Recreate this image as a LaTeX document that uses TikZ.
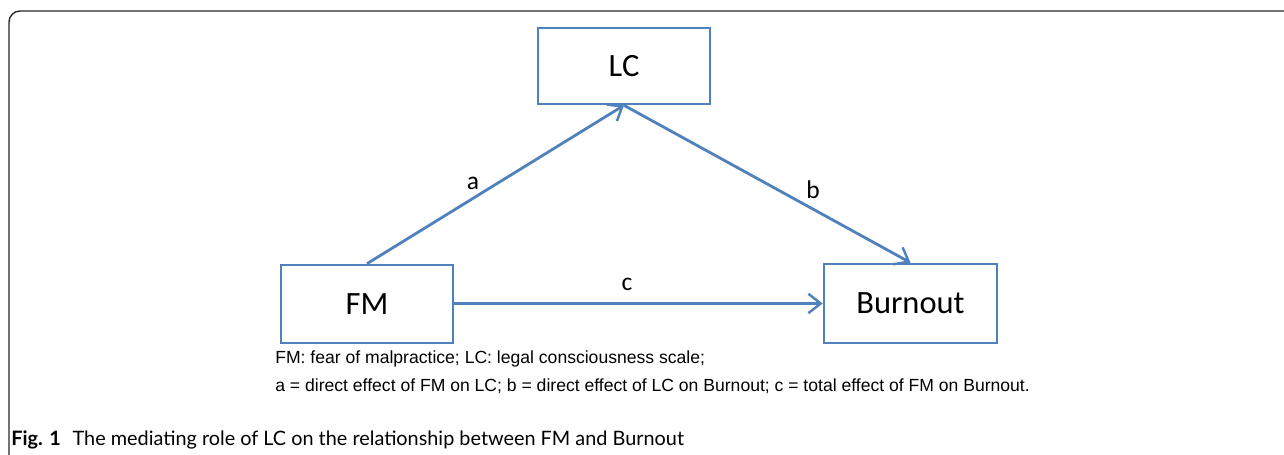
\documentclass[tikz,border=0pt]{standalone}
\usepackage{fontspec}
\setmainfont{Carlito}
\newfontfamily\notefont{Liberation Sans}
\newfontfamily\capfont{Lato}
\usetikzlibrary{arrows.meta,calc}
\definecolor{boxblue}{RGB}{79,129,189}
\definecolor{framegray}{RGB}{40,40,40}
\newdimen\px
\px=0.02cm
\tikzset{
  varbox/.style={draw=boxblue, line width=1.5pt, minimum width=172\px, inner sep=0pt, font=\fontsize{18.5}{22}\selectfont},
  effect/.style={draw=boxblue, line width=1.6pt, -{Straight Barb[length=7pt,width=11pt,line width=1.4pt]}},
  lbl/.style={font=\fontsize{14.5}{17}\selectfont},
  note/.style={anchor=base west, inner sep=0pt, font=\notefont\fontsize{10}{12}\selectfont},
}
\begin{document}
\begin{tikzpicture}[x=0.02cm,y=-0.02cm]
\useasboundingbox (0,0) rectangle (1284,455);
% frame
\draw[framegray, line width=0.8pt, rounded corners=0.22cm] (9,455) -- (9,11) -- (1284,11);
% nodes
\node[varbox, minimum height=76\px] (LC) at (624,66) {LC};
\node[varbox, minimum height=78\px] (FM) at (367,304) {FM};
\node[varbox, minimum height=79\px, minimum width=173\px] (BO) at (910.5,303.5) {Burnout};
% connectors
\draw[effect] (FM.north) -- (LC.south);
\draw[effect] (LC.south) -- (BO.north);
\draw[effect] (FM.east |- BO.west) -- (BO.west);
% labels
\node[lbl] (la) at (473,183) {a};
\node[lbl] (lb) at (813,190) {b};
\node[lbl] (lc) at (627,284) {c};
% note
\node[note] (n1) at (275,364) {FM: fear of malpractice; LC: legal consciousness scale;};
\node[note] (n2) at (275,392) {a = direct effect of FM on LC; b = direct effect of LC on Burnout; c = total effect of FM on Burnout.};
% caption
\node[anchor=base west, inner sep=0pt, font=\capfont\fontsize{11.3}{13}\selectfont] (cap) at (11,446) {\textbf{Fig. 1}\hspace{0.6em}The mediating role of LC on the relationship between FM and Burnout};
\end{tikzpicture}
\end{document}
